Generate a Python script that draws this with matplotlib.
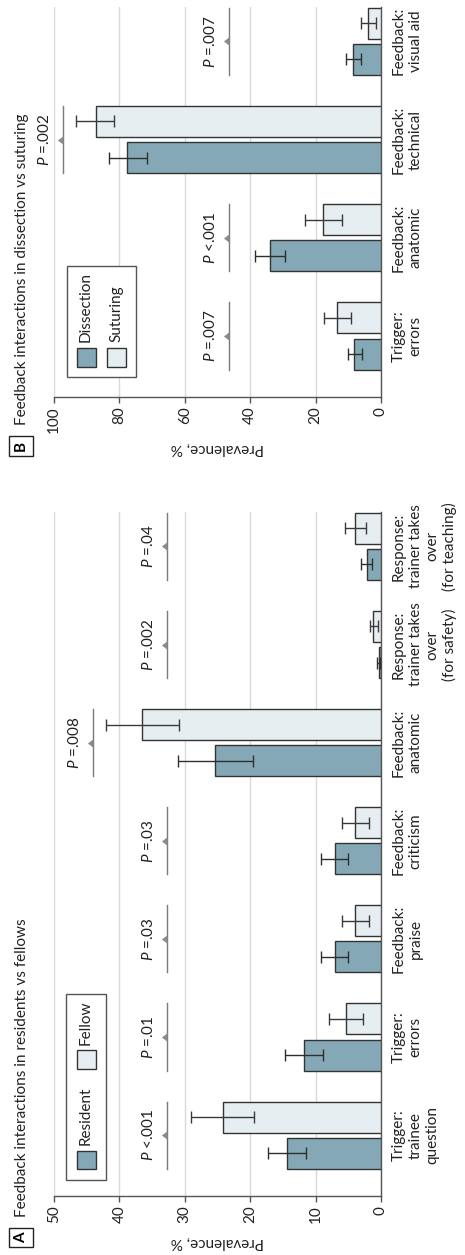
import numpy as np
import matplotlib
matplotlib.use('Agg')
import matplotlib.pyplot as plt
from matplotlib.patches import Rectangle
from matplotlib.path import Path

plt.rcParams['font.family'] = ['Lato', 'DejaVu Sans']
plt.rcParams['mathtext.fontset'] = 'custom'
plt.rcParams['mathtext.it'] = 'Lato:italic'
plt.rcParams['mathtext.rm'] = 'Lato'

# Panel A: residents vs fellows
cats_a = ['Trigger:\ntrainee\nquestion', 'Trigger:\nerrors', 'Feedback:\npraise',
          'Feedback:\ncriticism', 'Feedback:\nanatomic',
          'Response:\ntrainer takes\nover\n(for safety)',
          'Response:\ntrainer takes\nover\n(for teaching)']
resident = [14.4, 11.8, 7.0, 7.1, 25.4, 0.3, 2.2]
resident_lo = [11.5, 8.9, 5.0, 5.1, 19.5, 0.1, 1.3]
resident_hi = [17.3, 14.6, 9.2, 9.2, 31.1, 0.6, 3.0]
fellow = [24.1, 5.3, 3.9, 3.9, 36.5, 1.2, 4.0]
fellow_lo = [19.4, 2.7, 1.9, 1.9, 30.9, 0.5, 2.3]
fellow_hi = [29.0, 7.9, 5.9, 5.9, 42.0, 1.7, 5.5]
p_a = ['<.001', '=.01', '=.03', '=.03', '=.008', '=.002', '=.04']
p_level_a = [32.7, 32.7, 32.7, 32.7, 44.0, 32.7, 32.7]

# Panel B: dissection vs suturing
cats_b = ['Trigger:\nerrors', 'Feedback:\nanatomic', 'Feedback:\ntechnical', 'Feedback:\nvisual aid']
dissection = [8.2, 33.8, 77.6, 8.5]
dissection_lo = [5.9, 29.2, 71.7, 6.2]
dissection_hi = [10.2, 38.4, 83.3, 10.8]
suturing = [13.3, 17.7, 87.3, 3.9]
suturing_lo = [9.2, 12.0, 81.7, 1.5]
suturing_hi = [17.3, 23.3, 93.2, 6.1]
p_b = ['=.007', '<.001', '=.002', '=.007']
p_level_b = [46.5, 46.5, 97.2, 46.5]

DARK = '#84a8b6'
LIGHT = '#e6eef1'
EDGE = '#333333'
AXC = '#555555'
FS = 11

tri = Path([(0, -1), (0, 1), (-1.3, 0), (0, -1)],
           [Path.MOVETO, Path.LINETO, Path.LINETO, Path.CLOSEPOLY])


def draw_panel(ax, cats, v1, lo1, hi1, v2, lo2, hi2, pv, plev, vmax, step, names, leg):
    y = np.arange(len(cats))
    off, h = 0.184, 0.316
    ax.barh(y - off, v1, height=h, color=DARK, edgecolor=EDGE, lw=1, zorder=3)
    ax.barh(y + off, v2, height=h, color=LIGHT, edgecolor=EDGE, lw=1, zorder=3)
    ax.errorbar(v1, y - off, xerr=[np.subtract(v1, lo1), np.subtract(hi1, v1)], fmt='none',
                ecolor='#2e2e2e', elinewidth=1, capsize=4.5, capthick=1, zorder=4)
    ax.errorbar(v2, y + off, xerr=[np.subtract(v2, lo2), np.subtract(hi2, v2)], fmt='none',
                ecolor='#3a3a3a', elinewidth=1, capsize=4.5, capthick=1, zorder=4)

    # P value markers
    for i, (p, lev) in enumerate(zip(pv, plev)):
        ax.plot([lev, lev], [i - off - h / 2, i + off + h / 2], color='#7a7a7a', lw=1, zorder=3)
        ax.plot(lev, i, marker=tri, markersize=8, color='#8a8a8a', mec='none', zorder=3)
        ax.annotate('$P$ ' + p, xy=(lev, i), xytext=(-8, 0), textcoords='offset points',
                    rotation=90, ha='right', va='center', fontsize=FS, color='#222222')

    # category labels
    for i, c in enumerate(cats):
        ax.text(1.033, i, c, transform=ax.get_yaxis_transform(), rotation=90,
                ha='left', va='center', multialignment='center', fontsize=FS,
                linespacing=1.25, color='#222222')

    ax.set_xlim(vmax, 0)
    ax.set_ylim(-0.62, len(cats) - 1 + 0.35)
    ax.set_yticks([])
    ax.set_xticks(np.arange(0, vmax + 1, step))
    ax.tick_params(axis='x', direction='out', length=4, width=1, color=AXC, pad=3,
                   labelsize=FS, labelrotation=90, labelcolor='#222222')
    ax.xaxis.grid(True, color='#d9d9d9', lw=1)
    ax.set_axisbelow(True)
    for s in ['top', 'left']:
        ax.spines[s].set_visible(False)
    for s in ['bottom', 'right']:
        ax.spines[s].set_color(AXC)
        ax.spines[s].set_linewidth(1)
    ax.set_xlabel('Prevalence, %', rotation=180, fontsize=FS, color='#222222')

    # legend drawn by hand so it can be rotated
    bx0, by0, bx1, by1 = leg['box']
    ax.add_patch(Rectangle((bx0, by0), bx1 - bx0, by1 - by0, transform=ax.transAxes,
                           fc='white', ec=AXC, lw=1, zorder=5))
    for (px, py, pw, ph, tx, ty), name, col in zip(leg['items'], names, [DARK, LIGHT]):
        ax.add_patch(Rectangle((px, py), pw, ph, transform=ax.transAxes,
                               fc=col, ec=EDGE, lw=1, zorder=6))
        ax.text(tx, ty, name, transform=ax.transAxes, rotation=90, ha='center',
                va='bottom', fontsize=FS, color='#222222', zorder=6)


fig = plt.figure(figsize=(4.65, 12.55), dpi=100)
ax_a = fig.add_axes([0.1161, 0.0470, 0.7032, 0.5450])
ax_b = fig.add_axes([0.1161, 0.6837, 0.7032, 0.3108])

leg_a = {'box': (0.037, 0.023, 0.159, 0.295),
         'items': [(0.070, 0.039, 0.058, 0.027, 0.098, 0.075),
                   (0.070, 0.186, 0.058, 0.027, 0.098, 0.221)]}
leg_b = {'box': (0.040, 0.051, 0.251, 0.336),
         'items': [(0.070, 0.077, 0.058, 0.049, 0.098, 0.141),
                   (0.162, 0.077, 0.058, 0.049, 0.190, 0.141)]}

draw_panel(ax_a, cats_a, resident, resident_lo, resident_hi, fellow, fellow_lo, fellow_hi,
           p_a, p_level_a, 50, 10, ['Resident', 'Fellow'], leg_a)
draw_panel(ax_b, cats_b, dissection, dissection_lo, dissection_hi, suturing, suturing_lo,
           suturing_hi, p_b, p_level_b, 100, 20, ['Dissection', 'Suturing'], leg_b)
ax_a.xaxis.set_label_coords(0.5, -0.057)
ax_b.xaxis.set_label_coords(0.5, -0.113)

# panel letters and titles
for ypos, letter in [(0.0139, 'A'), (0.6446, 'B')]:
    fig.text(0.045, ypos, letter, rotation=90, ha='center', va='center', fontsize=FS,
             fontweight='bold', bbox=dict(boxstyle='square,pad=0.3', fc='white', ec='#222222', lw=1))
fig.text(0.047, 0.0303, 'Feedback interactions in residents vs fellows', rotation=90,
         ha='center', va='bottom', fontsize=FS, color='#222222')
fig.text(0.047, 0.6614, 'Feedback interactions in dissection vs suturing', rotation=90,
         ha='center', va='bottom', fontsize=FS, color='#222222')

fig.savefig('out.png', dpi=100)
